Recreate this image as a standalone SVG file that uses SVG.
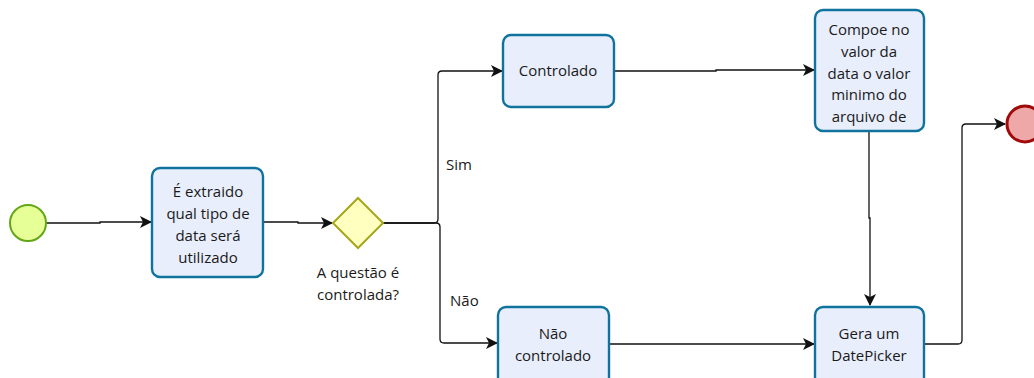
<svg xmlns="http://www.w3.org/2000/svg" width="1034" height="378" viewBox="0 0 1034 378">
  <style>
    .task { fill: #e8eefc; stroke: #10739e; stroke-width: 2.4; }
    .txt { font-family: "Open Sans", "Noto Sans", sans-serif; font-size: 15px; fill: #1a1a1a; text-anchor: middle; }
    .lbl { font-family: "Open Sans", "Noto Sans", sans-serif; font-size: 15px; fill: #1a1a1a; }
    .flow { fill: none; stroke: #111; stroke-width: 1.3; marker-end: url(#arrow); }
  </style>
  <defs>
    <marker id="arrow" viewBox="0 0 12 12" refX="11" refY="6" markerWidth="12" markerHeight="12" markerUnits="userSpaceOnUse" orient="auto">
      <path d="M0,0 L12,6 L0,12 L3,6 Z" fill="#111"/>
    </marker>
  </defs>
  <rect width="1034" height="378" fill="#fff"/>

  <g id="connectors">
    <path class="flow" d="M46,223 H100 V222 H151"/>
    <path class="flow" d="M263,222 H298 V223 H332"/>
    <path class="flow" d="M383,223 H434 Q438,223 438,219 V75 Q438,71 442,71 H502"/>
    <path class="flow" d="M383,223 H436 Q440,223 440,227 V339 Q440,343 444,343 H497"/>
    <path class="flow" d="M614,71 H716 V70 H814"/>
    <path class="flow" d="M869,131 V218 H870 V305"/>
    <path class="flow" d="M609,344 H814"/>
    <path class="flow" d="M924,344 H958 Q962,344 962,340 V128 Q962,124 966,124 H1005"/>
  </g>

  <g id="start">
    <circle cx="28" cy="223" r="18" fill="#e6ff97" stroke="#62a716" stroke-width="2"/>
  </g>

  <g id="task-extraido">
    <rect class="task" x="152" y="168" width="111" height="109" rx="8"/>
    <text class="txt" x="208" y="197">É extraido</text>
    <text class="txt" x="208" y="219">qual tipo de</text>
    <text class="txt" x="208" y="241">data será</text>
    <text class="txt" x="208" y="263">utilizado</text>
  </g>

  <g id="gateway">
    <polygon points="358,198 383,223 358,248 333,223" fill="#ffffc0" stroke="#a6a61c" stroke-width="2"/>
    <text class="txt" x="358" y="278">A questão é</text>
    <text class="txt" x="358" y="300">controlada?</text>
  </g>

  <g id="label-sim">
    <text class="lbl" x="446" y="170">Sim</text>
  </g>
  <g id="label-nao">
    <text class="lbl" x="450" y="306">Não</text>
  </g>

  <g id="task-controlado">
    <rect class="task" x="503" y="35" width="111" height="72" rx="8"/>
    <text class="txt" x="558" y="76">Controlado</text>
  </g>

  <g id="task-compoe">
    <rect class="task" x="815" y="10" width="109" height="121" rx="8"/>
    <text class="txt" x="869" y="35">Compoe no</text>
    <text class="txt" x="869" y="57">valor da</text>
    <text class="txt" x="869" y="79">data o valor</text>
    <text class="txt" x="869" y="100">minimo do</text>
    <text class="txt" x="869" y="122">arquivo de</text>
  </g>

  <g id="task-nao-controlado">
    <rect class="task" x="498" y="307" width="111" height="80" rx="8"/>
    <text class="txt" x="553" y="339">Não</text>
    <text class="txt" x="553" y="361">controlado</text>
  </g>

  <g id="task-datepicker">
    <rect class="task" x="815" y="307" width="109" height="80" rx="8"/>
    <text class="txt" x="869" y="339">Gera um</text>
    <text class="txt" x="869" y="361">DatePicker</text>
  </g>

  <g id="end">
    <circle cx="1025" cy="124" r="18" fill="#eea8a8" stroke="#a10a0a" stroke-width="3"/>
  </g>
</svg>
